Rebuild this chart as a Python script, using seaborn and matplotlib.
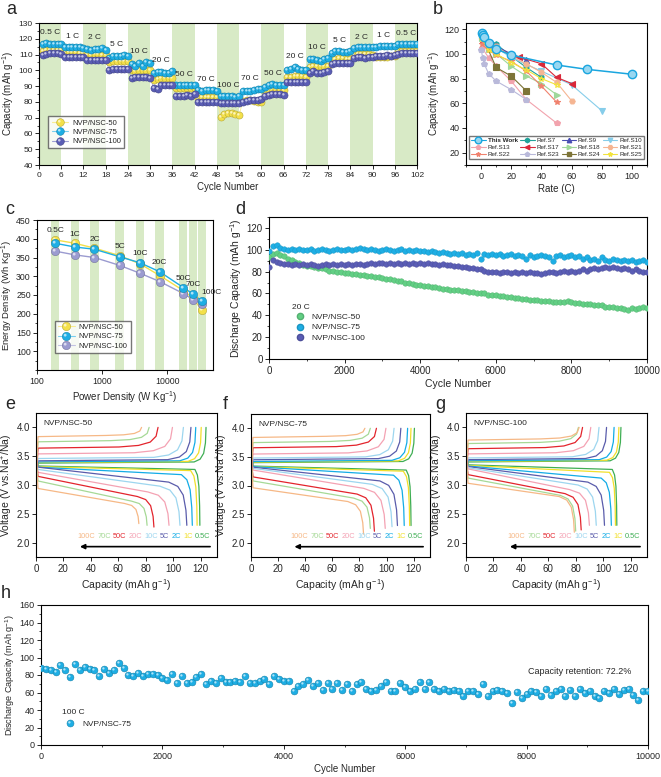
import numpy as np
import matplotlib
matplotlib.use('Agg')
import matplotlib.pyplot as plt
from matplotlib.path import Path
from matplotlib.markers import MarkerStyle
from matplotlib.lines import Line2D
from matplotlib.colors import to_rgb
from matplotlib.ticker import MultipleLocator, NullLocator
import seaborn as sns

# %% Panel a: rate performance (6 cycles per rate step)
rates_a = ['0.5 C', '1 C', '2 C', '5 C', '10 C', '20 C', '50 C', '70 C', '100 C',
           '70 C', '50 C', '20 C', '10 C', '5 C', '2 C', '1 C', '0.5 C']
cycles_a = np.arange(1, 103)
cap_a_50 = [112, 113, 113, 113, 113, 113,
            111, 111.5, 111.5, 111.5, 111, 111,
            110, 110, 110.5, 110.5, 110, 110,
            105.5, 106, 106, 106, 106, 106,
            100, 99.5, 100.5, 100, 100, 100,
            94, 94.5, 95, 95, 95, 95,
            88.5, 89, 89, 89, 89, 88.5,
            82.5, 83, 83, 83, 83, 83,
            70.5, 72.5, 73, 73, 72.5, 71.5,
            80.5, 81, 81, 80.5, 80, 80,
            87, 87.5, 88, 88, 88, 87.5,
            96, 96, 96.5, 96.5, 96.5, 96,
            102, 102.5, 103, 102.5, 102.5, 103,
            107, 107, 107.5, 107.5, 107, 107,
            110, 110.5, 110.5, 110.5, 110.5, 110,
            108.5, 108.5, 108.5, 108.5, 109, 109,
            112, 112.5, 112.5, 112.5, 112.5, 112.5]
cap_a_75 = [117, 117.5, 117, 117, 116.5, 117,
            115, 115, 115, 115, 115, 114,
            113.5, 113, 113.5, 113.5, 114, 113,
            108, 109, 109, 109, 109.5, 109,
            104, 103, 104.5, 103, 105, 104.5,
            98, 99, 99, 98.5, 98.5, 99.5,
            91, 90.5, 91, 91, 90.5, 91,
            87.5, 87, 87.5, 87.5, 87.5, 87,
            83.5, 84, 84, 84, 83, 84,
            87, 87, 87, 87.5, 88, 88,
            89.5, 90.5, 91.5, 91, 90.5, 91,
            100, 101, 102, 101, 100.5, 100,
            107, 107, 106.5, 106, 107, 108,
            111, 112, 112, 111.5, 111.5, 112,
            114, 114.5, 114.5, 114.5, 114.5, 114.5,
            115, 115.5, 115.5, 115.5, 115.5, 115.5,
            116.5, 116.5, 116.5, 116.5, 116.5, 116.5]
cap_a_100 = [109.5, 110.5, 111, 111, 111, 110.5,
             108.5, 108.5, 108.5, 108.5, 108.5, 108.5,
             106.5, 106.5, 106.5, 106.5, 106.5, 106.5,
             100, 101, 101, 101, 101, 101,
             95, 95.5, 96, 96, 96, 95,
             89, 88, 90.5, 91, 91, 91,
             84, 84, 84, 84.5, 83.5, 85,
             80, 80, 80, 80, 80, 80,
             79.5, 79, 79, 79, 79, 79,
             80, 80.5, 81, 81, 81.5, 82,
             83.5, 84.5, 85, 85, 85, 84.5,
             92.5, 92.5, 92.5, 92.5, 92.5, 92.5,
             98, 99.5, 98.5, 98, 99, 99.5,
             104, 104.5, 104.5, 104.5, 104.5, 104.5,
             108, 108.5, 108.5, 108, 108.5, 108.5,
             109, 109, 109, 109.5, 109, 109.5,
             110.5, 111, 111, 111, 111, 111]

# %% Panel b: comparison with literature (rate C, capacity)
refs_b = ['This Work', 'Ref.S7', 'Ref.S9', 'Ref.S10', 'Ref.S13', 'Ref.S17',
          'Ref.S18', 'Ref.S21', 'Ref.S22', 'Ref.S23', 'Ref.S24', 'Ref.S25']
rate_b = [[0.5, 1, 2, 5, 10, 20, 50, 70, 100],
          [0.5, 5, 10, 20, 30, 40],
          [0.5, 5, 10, 20, 30],
          [0.5, 10, 20, 40, 60, 80],
          [0.5, 5, 10, 20, 30, 50],
          [0.5, 1, 5, 10, 25, 40, 50, 60],
          [0.5, 5, 10, 20, 30, 40, 50],
          [0.5, 10, 20, 30, 40, 50, 60],
          [0.5, 5, 10, 20, 30, 40, 50],
          [0.2, 1, 2, 5, 10, 20, 30],
          [0.5, 10, 20, 30],
          [0.5, 5, 10, 20, 30, 40, 50]]
cap_b = [[117, 115, 113.5, 109, 104, 99, 91, 87.5, 83.5],
         [116, 110, 108, 98, 89, 81],
         [115, 109, 106, 100, 95],
         [115, 105, 97, 86, 75, 54],
         [105, 97, 90, 78, 63, 44],
         [112, 110, 107, 104, 97.5, 92, 81, 76],
         [113, 104, 100, 90, 82, 76, 67],
         [113, 106, 98, 92, 85, 77, 62],
         [108, 103, 99, 94, 86, 74, 61],
         [103, 97, 92, 84, 78, 71, 63],
         [115, 89, 82, 70],
         [112, 103, 100, 93, 87, 80, 75]]
colors_b = ['#1aa6df', '#22a39a', '#4a4fb3', '#86cdea', '#f2a3ad', '#d9283a',
            '#9fd89a', '#f5b592', '#f0826e', '#b9b9da', '#7d7437', '#f2e33c']
markers_b = ['o', 'h', '^', 'v', 'p', '<', '>', 'H', '*', 'p', 's', '*']

# %% Panel c: Ragone plot
rate_c = ['0.5C', '1C', '2C', '5C', '10C', '20C', '50C', '70C', '100C']
power_c = [190, 380, 760, 1850, 3800, 7600, 17500, 24500, 34000]
energy_c_50 = [397, 388, 375, 355, 333, 302, 262, 242, 209]
energy_c_75 = [388, 378, 372, 352, 336, 312, 270, 253, 233]
energy_c_100 = [367, 357, 350, 329, 308, 286, 254, 238, 226]

# %% Panel d: long cycling at 20 C (every 100 cycles)
cycles_d = np.arange(0, 10001, 100)
cap_d_50 = [93, 96, 97, 95, 94, 92, 91, 89, 88, 86, 85,
            85, 84, 83, 83, 82, 81, 81, 80, 80, 79,
            79, 78, 78, 77, 77, 76, 76, 75, 75, 74,
            73, 73, 72, 71, 71, 70, 70, 69, 68, 68,
            67, 67, 66, 66, 65, 64, 64, 63, 63, 63,
            62, 62, 61, 61, 60, 60, 60, 59, 59, 59,
            58, 58, 57, 57, 56, 56, 55, 55, 54, 54,
            54, 53, 53, 53, 52, 52, 52, 52, 53, 52,
            51, 51, 50, 50, 50, 49, 49, 49, 48, 48,
            48, 47, 47, 46, 45, 47, 46, 47, 48, 47]
cap_d_75 = [99, 103, 104, 102, 101, 100, 101, 100, 101, 100, 100,
            101, 99, 100, 101, 100, 99, 100, 101, 100, 100,
            101, 100, 101, 102, 101, 100, 101, 100, 99, 100,
            101, 100, 99, 100, 101, 99, 100, 99, 100, 99,
            99, 98, 99, 98, 97, 98, 97, 96, 97, 96,
            97, 95, 96, 95, 97, 92, 96, 95, 96, 95,
            96, 94, 95, 96, 94, 95, 94, 92, 95, 93,
            94, 95, 94, 93, 90, 94, 95, 93, 94, 95,
            93, 94, 92, 93, 91, 92, 90, 93, 91, 90,
            92, 91, 90, 91, 90, 91, 89, 90, 91, 89]
cap_d_100 = [84, 91, 89, 88, 87, 87, 86, 87, 86, 87, 86,
             87, 86, 85, 86, 87, 86, 87, 86, 87, 86,
             87, 86, 87, 87, 86, 87, 88, 87, 88, 88,
             87, 88, 87, 88, 87, 88, 87, 88, 87, 88,
             87, 88, 87, 87, 86, 87, 86, 86, 85, 85,
             84, 84, 83, 83, 82, 82, 81, 80, 80, 80,
             79, 80, 80, 79, 80, 79, 80, 79, 80, 79,
             79, 78, 79, 80, 80, 79, 80, 81, 80, 81,
             80, 81, 82, 81, 82, 83, 82, 83, 84, 83,
             84, 83, 82, 83, 82, 81, 82, 81, 80, 80]

# %% Panels e-g: charge/discharge profiles (order 0.5C ... 100C)
rate_efg = ['0.5C', '1C', '2C', '5C', '10C', '20C', '50C', '70C', '100C']
colors_efg = ['#3fae54', '#f2df2a', '#13ace6', '#5a5cab', '#9dd6ef',
              '#f4a2b3', '#e3242c', '#a6d996', '#f6b886']
# normalised curve shape near the end of charge / discharge
chg_knee = [0.93, 0.92, 0.90, 0.85, 0.80, 0.72, 0.68, 0.66, 0.66]
dis_knee = [0.97, 0.96, 0.93, 0.88, 0.86, 0.84, 0.86, 0.86, 0.86]
tail_t = [0, 0.5, 0.8, 0.95, 1.0]
rise_f = [0, 0.08, 0.25, 0.55, 1.0]
drop_f = [0, 0.1, 0.3, 0.65, 1.0]

names_efg = ['NVP/NSC-50', 'NVP/NSC-75', 'NVP/NSC-100']
chg_v = [[3.38, 3.39, 3.40, 3.42, 3.46, 3.54, 3.64, 3.75, 3.84],
         [3.40, 3.41, 3.42, 3.45, 3.48, 3.55, 3.66, 3.75, 3.84],
         [3.40, 3.41, 3.42, 3.44, 3.47, 3.54, 3.63, 3.72, 3.78]]
chg_q = [[124, 120.5, 116.5, 113, 107.5, 99.5, 89, 82.5, 77],
         [120.5, 118, 115.5, 110.5, 105.5, 99.5, 92.5, 88, 84],
         [113, 111.5, 108, 102.5, 97, 91, 85, 82, 82.5]]
dis_v0 = [[3.33, 3.32, 3.31, 3.31, 3.27, 3.22, 3.15, 3.07, 2.94],
          [3.34, 3.33, 3.33, 3.32, 3.30, 3.27, 3.15, 3.08, 2.96],
          [3.35, 3.34, 3.33, 3.32, 3.30, 3.28, 3.18, 3.12, 3.03]]
dis_v1 = [[3.27, 3.25, 3.18, 3.05, 2.98, 2.88, 2.80, 2.72, 2.68],
          [3.27, 3.25, 3.18, 3.08, 3.02, 2.95, 2.85, 2.78, 2.72],
          [3.27, 3.22, 3.12, 3.05, 3.00, 2.92, 2.85, 2.82, 2.80]]
dis_q = [[119.5, 117.5, 114, 110, 105, 97, 86, 81, 75],
         [118, 117, 113, 108, 104, 99, 91, 88, 83],
         [110, 109, 106, 101, 95, 90, 84, 80, 79]]
dis_end = [[2.3, 2.3, 2.3, 2.3, 2.3, 2.3, 2.27, 2.3, 2.33],
           [2.3, 2.3, 2.3, 2.3, 2.28, 2.25, 2.2, 2.25, 2.15],
           [2.3, 2.3, 2.3, 2.3, 2.3, 2.3, 2.22, 2.2, 2.18]]

# %% Panel h: 100 C cycling of NVP/NSC-75 (every 80 cycles)
cycles_h = np.arange(0, 10001, 80)
cap_h = [88, 87, 86, 84, 91, 86, 78, 93, 86, 89, 87, 86, 79, 87, 82, 86, 94, 88,
         80, 79, 82, 79, 81, 81, 80, 77, 74, 81, 71, 79, 71, 72, 78, 81, 70, 73,
         71, 77, 72, 72, 73, 72, 79, 71, 71, 73, 75, 70, 79, 75, 73, 73, 62, 68,
         70, 74, 68, 71, 63, 71, 64, 71, 63, 70, 62, 70, 72, 64, 62, 63, 68, 72,
         62, 62, 71, 66, 62, 64, 72, 64, 72, 64, 62, 64, 62, 63, 62, 56, 62, 62,
         58, 70, 56, 62, 63, 62, 60, 48, 61, 54, 58, 62, 61, 56, 64, 57, 62, 64,
         56, 63, 56, 64, 60, 62, 56, 54, 62, 60, 64, 58, 63, 64, 57, 52, 62, 62]

# %% Style
sns.set_theme(style='ticks')
plt.rcParams['font.family'] = ['Liberation Sans', 'DejaVu Sans']
plt.rcParams.update({'mathtext.fontset': 'custom', 'mathtext.rm': 'Liberation Sans',
                     'mathtext.it': 'Liberation Sans:italic',
                     'axes.linewidth': 0.8, 'xtick.direction': 'out', 'ytick.direction': 'out',
                     'xtick.major.size': 3, 'ytick.major.size': 3,
                     'xtick.minor.size': 1.6, 'ytick.minor.size': 1.6,
                     'xtick.major.width': 0.7, 'ytick.major.width': 0.7,
                     'xtick.minor.width': 0.6, 'ytick.minor.width': 0.6,
                     'xtick.major.pad': 2, 'ytick.major.pad': 1.5,
                     'axes.labelpad': 2, 'axes.edgecolor': 'black'})
BAND = '#d8eac6'
YEL, CYA, PUR, LAV, GRN = '#f3e04a', '#1eaee4', '#5a5db5', '#9b9bd0', '#62cf84'


def tint(c, f):
    r = np.array(to_rgb(c))
    return tuple(r + (1 - r) * f)


def shade(c, f):
    return tuple(np.array(to_rgb(c)) * f)


# highlight spot for the "glossy ball" markers
_t = np.linspace(0, 2 * np.pi, 24)
_hl = np.column_stack([-0.32 + 0.34 * np.cos(_t), 0.32 + 0.34 * np.sin(_t)])
HL = MarkerStyle(Path(np.vstack([[-1, -1], [1, 1], _hl]),
                      [Path.MOVETO, Path.MOVETO, Path.MOVETO] + [Path.LINETO] * (len(_hl) - 2) + [Path.CLOSEPOLY]))


def balls(ax, x, y, color, s, z=3):
    sns.scatterplot(x=x, y=y, ax=ax, color=color, s=s, edgecolor=shade(color, 0.75),
                    linewidth=0.4, zorder=z, legend=False)
    sns.scatterplot(x=x, y=y, ax=ax, color=tint(color, 0.65), s=s, marker=HL,
                    linewidth=0, zorder=z, legend=False)


def ball_handle(color, ms, line=True):
    base = Line2D([], [], color=tint(color, 0.4) if line else 'none', lw=0.8, marker='o', ms=ms,
                  mfc=color, mec=shade(color, 0.75), mew=0.4)
    hl = Line2D([], [], color='none', marker=HL, ms=ms, mfc=tint(color, 0.65), mew=0)
    return (base, hl)


def rect(l, t, r, b):
    return [l / 661, 1 - b / 777, (r - l) / 661, (b - t) / 777]


fig = plt.figure(figsize=(6.61, 7.77), dpi=100)
ax_a = fig.add_axes(rect(39, 23, 417, 165))
ax_b = fig.add_axes(rect(466, 23, 647, 165))
ax_c = fig.add_axes(rect(37, 220, 213, 370))
ax_d = fig.add_axes(rect(269, 217, 647, 359))
ax_e = fig.add_axes(rect(36, 413, 217, 557))
ax_f = fig.add_axes(rect(251, 414, 430, 557))
ax_g = fig.add_axes(rect(466, 413, 647, 557))
ax_h = fig.add_axes(rect(41, 605, 648, 745))

# %% a
for k in range(0, 17, 2):
    ax_a.axvspan(6 * k, 6 * k + 6, color=BAND, lw=0, zorder=0)
for cap, col in [(cap_a_50, YEL), (cap_a_75, CYA), (cap_a_100, PUR)]:
    sns.lineplot(x=cycles_a, y=cap, ax=ax_a, color=tint(col, 0.4), lw=0.6, zorder=2)
    balls(ax_a, cycles_a, cap, col, 26)
seg_max = np.max([np.reshape(c, (17, 6)) for c in (cap_a_50, cap_a_75, cap_a_100)], axis=(0, 2))
for k, lab in enumerate(rates_a):
    ax_a.annotate(lab, (6 * k + 3, seg_max[k]), xytext=(0, 5), textcoords='offset points',
                  ha='center', va='bottom', fontsize=6)
ax_a.set_xlim(0, 102)
ax_a.set_ylim(40, 130)
ax_a.set_xticks(np.arange(0, 103, 6))
ax_a.set_yticks(np.arange(40, 131, 10))
ax_a.yaxis.set_minor_locator(MultipleLocator(5))
ax_a.set_xlabel('Cycle Number', fontsize=7)
ax_a.set_ylabel('Capacity (mAh g$^{-1}$)', fontsize=7)
ax_a.tick_params(labelsize=6)
ax_a.legend([ball_handle(c, 5.5) for c in (YEL, CYA, PUR)], ['NVP/NSC-50', 'NVP/NSC-75', 'NVP/NSC-100'],
            loc='lower left', bbox_to_anchor=(0.015, 0.09), fontsize=5.5, frameon=True, fancybox=False,
            edgecolor='#555555', handlelength=2.2, borderpad=0.4, labelspacing=0.25, handletextpad=0.5)

# %% b
handles = []
for name, xs, ys, col, mk in zip(refs_b, rate_b, cap_b, colors_b, markers_b):
    main = name == 'This Work'
    ms = 6 if main else 4
    mfc = 'none' if name == 'Ref.S25' else (tint(col, 0.55) if main else col)
    sns.lineplot(x=xs, y=ys, ax=ax_b, color=col, lw=1.1 if main else 0.8,
                 marker=mk, ms=ms, mfc=mfc, mec=col, mew=1.0 if main else 0.8, zorder=5 if main else 3)
    handles.append(Line2D([], [], color=col, lw=0.8, marker=mk, ms=ms * 0.8, mfc=mfc, mec=col))
order = [0, 4, 8, 1, 5, 9, 2, 6, 10, 3, 7, 11]
ax_b.legend([handles[i] for i in order], [refs_b[i] for i in order], ncol=4, loc='lower center',
            bbox_to_anchor=(0.5, 0.02), fontsize=4.5, frameon=True, fancybox=False, edgecolor='#555555',
            handlelength=2.3, columnspacing=0.4, handletextpad=0.3, labelspacing=0.25, borderpad=0.3)
leg_b = ax_b.get_legend()
leg_b.get_texts()[0].set_fontweight('bold')
ax_b.set_xlim(-10, 110)
ax_b.set_ylim(10, 125)
ax_b.set_xticks(np.arange(0, 101, 20))
ax_b.set_yticks(np.arange(20, 121, 20))
ax_b.xaxis.set_minor_locator(MultipleLocator(10))
ax_b.yaxis.set_minor_locator(MultipleLocator(10))
ax_b.set_xlabel('Rate (C)', fontsize=7)
ax_b.set_ylabel('Capacity (mAh g$^{-1}$)', fontsize=7)
ax_b.tick_params(labelsize=6.5)

# %% c
ax_c.set_xscale('log')
for p in power_c:
    ax_c.axvspan(p / 1.16, p * 1.16, color=BAND, lw=0, zorder=0)
for en, col in [(energy_c_50, YEL), (energy_c_100, LAV), (energy_c_75, CYA)]:
    sns.lineplot(x=power_c, y=en, ax=ax_c, color=col, lw=1.0, zorder=2)
    balls(ax_c, power_c, en, col, 36)
top_c = np.max([energy_c_50, energy_c_75, energy_c_100], axis=0)
for k, lab in enumerate(rate_c):
    dx = 7 if lab == '100C' else 0
    ax_c.annotate(lab, (power_c[k], top_c[k]), xytext=(dx, 4), textcoords='offset points',
                  ha='center', va='bottom', fontsize=6)
ax_c.set_xlim(100, 50000)
ax_c.set_ylim(50, 450)
ax_c.set_yticks(np.arange(100, 451, 50))
ax_c.yaxis.set_minor_locator(MultipleLocator(25))
ax_c.xaxis.set_minor_locator(NullLocator())
ax_c.set_xticks([100, 1000, 10000], ['100', '1000', '10000'])
ax_c.set_xlabel('Power Density (W Kg$^{-1}$)', fontsize=7)
ax_c.set_ylabel('Energy Density (Wh Kg$^{-1}$)', fontsize=6.8, labelpad=0.5)
ax_c.tick_params(labelsize=6.3)
ax_c.legend([ball_handle(c, 6) for c in (YEL, CYA, LAV)], ['NVP/NSC-50', 'NVP/NSC-75', 'NVP/NSC-100'],
            loc='lower left', bbox_to_anchor=(0.08, 0.09), fontsize=5.5, frameon=True, fancybox=False,
            edgecolor='#555555', handlelength=2.2, borderpad=0.4, labelspacing=0.25, handletextpad=0.5)

# %% d
for cap, col in [(cap_d_50, GRN), (cap_d_75, CYA), (cap_d_100, PUR)]:
    sns.scatterplot(x=cycles_d, y=cap, ax=ax_d, color=col, s=16, edgecolor=shade(col, 0.85),
                    linewidth=0.3, legend=False, zorder=3)
ax_d.legend([Line2D([], [], ls='none', marker='o', ms=4.5, mfc=c, mec=shade(c, 0.85)) for c in (GRN, CYA, PUR)],
            ['NVP/NSC-50', 'NVP/NSC-75', 'NVP/NSC-100'], title='20 C', loc='upper left',
            bbox_to_anchor=(0.045, 0.43), fontsize=6, title_fontsize=6, frameon=False, alignment='left',
            handletextpad=0.4, labelspacing=0.3, borderpad=0.2)
ax_d.set_xlim(0, 10000)
ax_d.set_ylim(0, 130)
ax_d.set_xticks(np.arange(0, 10001, 2000))
ax_d.set_yticks(np.arange(0, 121, 20))
ax_d.xaxis.set_minor_locator(MultipleLocator(1000))
ax_d.yaxis.set_minor_locator(MultipleLocator(10))
ax_d.set_xlabel('Cycle Number', fontsize=7.5)
ax_d.set_ylabel('Discharge Capacity (mAh g$^{-1}$)', fontsize=7.5)
ax_d.tick_params(labelsize=7)

# %% e-g
for p, ax in enumerate([ax_e, ax_f, ax_g]):
    for r in range(9):
        col = colors_efg[r]
        qk = chg_knee[r] * chg_q[p][r]
        vp = chg_v[p][r]
        q_c = [0, 1.5] + [qk + t * (chg_q[p][r] - qk) for t in tail_t]
        v_c = [3.22, vp] + [vp + 0.02 + f * (4.0 - vp - 0.02) for f in rise_f]
        qd = dis_knee[r] * dis_q[p][r]
        q_d = [0, 1.5] + [qd + t * (dis_q[p][r] - qd) for t in tail_t]
        v_d = [3.48, dis_v0[p][r]] + [dis_v1[p][r] - f * (dis_v1[p][r] - dis_end[p][r]) for f in drop_f]
        sns.lineplot(x=q_c, y=v_c, ax=ax, color=col, lw=0.9, sort=False, estimator=None)
        sns.lineplot(x=q_d, y=v_d, ax=ax, color=col, lw=0.9, sort=False, estimator=None)
    # rate labels chained right to left: 0.5C at the right end ... 100C at the left
    prev = ax.text(127, 2.1, rate_efg[0], color=colors_efg[0], fontsize=5.3, ha='right', va='center')
    for r in range(1, 9):
        prev = ax.annotate(rate_efg[r], xy=(0, 0.5), xycoords=prev, xytext=(-1.6, 0),
                           textcoords='offset points', color=colors_efg[r], fontsize=5.3,
                           ha='right', va='center')
    ax.annotate('', xy=(30, 1.93), xytext=(129, 1.93),
                arrowprops=dict(arrowstyle='-|>', color='black', lw=1.2, mutation_scale=7))
    ax.text(0.04, 0.93, names_efg[p], transform=ax.transAxes, fontsize=6, va='center')
    ax.set_xlim(0, 132)
    ax.set_ylim(1.75, 4.25)
    ax.set_xticks(np.arange(0, 121, 20))
    ax.set_yticks(np.arange(2.0, 4.01, 0.5))
    ax.set_xlabel('Capacity (mAh g$^{-1}$)', fontsize=7.5)
    ax.set_ylabel('Voltage (V vs.Na$^{+}$/Na)', fontsize=7.5, labelpad=1)
    ax.tick_params(labelsize=7)

# %% h
balls(ax_h, cycles_h, cap_h, CYA, 24)
ax_h.legend([ball_handle(CYA, 5, line=False)], ['NVP/NSC-75'], title='100 C', loc='upper left',
            bbox_to_anchor=(0.025, 0.3), fontsize=6, title_fontsize=6, frameon=False, alignment='left',
            handletextpad=0.4, borderpad=0.2)
ax_h.text(8870, 84, 'Capacity retention: 72.2%', fontsize=6.5, ha='center', va='center')
ax_h.set_xlim(0, 10000)
ax_h.set_ylim(0, 160)
ax_h.set_xticks(np.arange(0, 10001, 2000))
ax_h.set_yticks(np.arange(0, 161, 20))
ax_h.xaxis.set_minor_locator(MultipleLocator(1000))
ax_h.yaxis.set_minor_locator(MultipleLocator(10))
ax_h.set_xlabel('Cycle Number', fontsize=7)
ax_h.set_ylabel('Discharge Capacity (mAh g$^{-1}$)', fontsize=6.5)
ax_h.tick_params(labelsize=6.5)

for lab, (x, y) in zip('abcdefgh', [(11, 10), (438, 10), (10, 210), (240, 210), (10, 405),
                                    (225, 405), (440, 405), (6, 593)]):
    fig.text(x / 661, 1 - y / 777, lab, fontsize=13, ha='center', va='center')

fig.savefig('out.png', dpi=100)
